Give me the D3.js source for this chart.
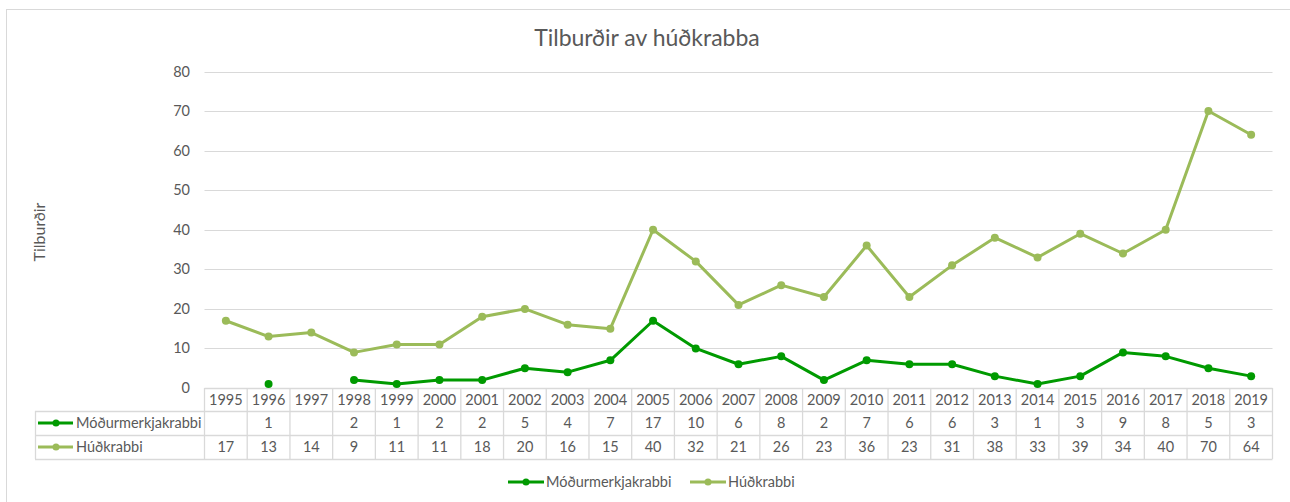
<!DOCTYPE html>
<html lang="is">
<head>
    <meta charset="UTF-8">
    <title>Tilburðir av húðkrabba</title>
    <script src="https://cdn.jsdelivr.net/npm/d3@7"></script>
    <style>
        body { margin: 0; background: #fff; }
        svg { font-family: Lato, "Liberation Sans", sans-serif; }
        .grid line { stroke: #d9d9d9; stroke-width: 1; }
        .tbl line { stroke: #d9d9d9; stroke-width: 1.3; }
        text { fill: #595959; }
    </style>
</head>
<body>
<svg class="chart"></svg>
<script>
    var width = 1290, height = 502;

    // data
    var years = ['1995','1996','1997','1998','1999','2000','2001','2002','2003','2004','2005','2006','2007',
                 '2008','2009','2010','2011','2012','2013','2014','2015','2016','2017','2018','2019'];
    var modurmerkja = [null,1,null,2,1,2,2,5,4,7,17,10,6,8,2,7,6,6,3,1,3,9,8,5,3];
    var hudkrabbi = [17,13,14,9,11,11,18,20,16,15,40,32,21,26,23,36,23,31,38,33,39,34,40,70,64];
    var seriesNames = ['Móðurmerkjakrabbi', 'Húðkrabbi'];
    var seriesColors = ['#009a00', '#9bbb59'];
    var yTicks = [0,10,20,30,40,50,60,70,80];

    var series = [
        {name: seriesNames[0], color: seriesColors[0], values: modurmerkja},
        {name: seriesNames[1], color: seriesColors[1], values: hudkrabbi}
    ];

    var svg = d3.select('.chart').attr('width', width).attr('height', height);

    // chart border
    svg.append('rect')
        .attr('x', 6.5).attr('y', 9.5)
        .attr('width', 1300).attr('height', 520)
        .attr('fill', 'none').attr('stroke', '#d9d9d9');

    var plotLeft = 204.5, plotRight = 1272.5, plotTop = 71.5, plotBottom = 388;

    var x = d3.scaleBand().domain(years).range([plotLeft, plotRight]);
    var y = d3.scaleLinear().domain([0, 80]).range([plotBottom, plotTop]);

    // title
    svg.append('text')
        .attr('x', 647).attr('y', 46)
        .attr('text-anchor', 'middle')
        .style('font-size', '23px')
        .text('Tilburðir av húðkrabba');

    // y axis label
    svg.append('text')
        .attr('transform', 'translate(45,232) rotate(-90)')
        .attr('text-anchor', 'middle')
        .style('font-size', '16px')
        .text('Tilburðir');

    // grid
    svg.append('g').attr('class', 'grid')
        .selectAll('line')
        .data(yTicks.filter(function (d) { return d > 0; }))
        .enter().append('line')
        .attr('x1', plotLeft).attr('x2', plotRight)
        .attr('y1', function (d) { return Math.round(y(d)) + 0.5; })
        .attr('y2', function (d) { return Math.round(y(d)) + 0.5; });

    // y tick labels
    svg.append('g')
        .selectAll('text')
        .data(yTicks)
        .enter().append('text')
        .attr('x', 190)
        .attr('y', function (d) { return y(d) + 5; })
        .attr('text-anchor', 'end')
        .style('font-size', '14.5px')
        .text(function (d) { return d; });

    // data table
    var rowTop = [388, 411, 435, 459];
    var labelLeft = 35;
    var tbl = svg.append('g').attr('class', 'tbl');

    // horizontal lines
    tbl.append('line').attr('x1', plotLeft).attr('x2', plotRight).attr('y1', rowTop[0] + 0.5).attr('y2', rowTop[0] + 0.5);
    [1, 2, 3].forEach(function (i) {
        tbl.append('line').attr('x1', labelLeft).attr('x2', plotRight)
            .attr('y1', rowTop[i] + 0.5).attr('y2', rowTop[i] + 0.5);
    });
    // vertical lines
    tbl.append('line').attr('x1', labelLeft + 0.5).attr('x2', labelLeft + 0.5).attr('y1', rowTop[1]).attr('y2', rowTop[3]);
    years.forEach(function (yr) {
        tbl.append('line').attr('x1', x(yr)).attr('x2', x(yr)).attr('y1', rowTop[0]).attr('y2', rowTop[3]);
    });
    tbl.append('line').attr('x1', plotRight).attr('x2', plotRight).attr('y1', rowTop[0]).attr('y2', rowTop[3]);

    // year headers
    svg.append('g').selectAll('text')
        .data(years).enter().append('text')
        .attr('x', function (d) { return x(d) + x.bandwidth() / 2; })
        .attr('y', rowTop[0] + 17)
        .attr('text-anchor', 'middle')
        .style('font-size', '14.5px')
        .text(function (d) { return d; });

    // table value rows
    series.forEach(function (s, i) {
        var yy = rowTop[i + 1] + 17;
        var g = svg.append('g');
        g.selectAll('text')
            .data(s.values).enter().append('text')
            .attr('x', function (d, j) { return x(years[j]) + x.bandwidth() / 2; })
            .attr('y', yy)
            .attr('text-anchor', 'middle')
            .style('font-size', '14.5px')
            .text(function (d) { return d == null ? '' : d; });
        // legend key in the table
        var ky = rowTop[i + 1] + 12;
        g.append('line').attr('x1', 38).attr('x2', 73).attr('y1', ky).attr('y2', ky)
            .attr('stroke', s.color).attr('stroke-width', 3);
        g.append('circle').attr('cx', 56).attr('cy', ky).attr('r', 3.5).attr('fill', s.color);
        g.append('text').attr('x', 76).attr('y', yy)
            .style('font-size', '14.5px')
            .text(s.name);
    });

    // lines
    var line = d3.line()
        .defined(function (d) { return d != null; })
        .x(function (d, j) { return x(years[j]) + x.bandwidth() / 2; })
        .y(function (d) { return y(d); });

    series.slice().reverse().forEach(function (s) {
        svg.append('path')
            .datum(s.values)
            .attr('fill', 'none')
            .attr('stroke', s.color)
            .attr('stroke-width', 3)
            .attr('stroke-linejoin', 'round')
            .attr('d', line);
        svg.append('g').selectAll('circle')
            .data(s.values.map(function (v, j) { return {v: v, yr: years[j]}; })
                .filter(function (d) { return d.v != null; }))
            .enter().append('circle')
            .attr('cx', function (d) { return x(d.yr) + x.bandwidth() / 2; })
            .attr('cy', function (d) { return y(d.v); })
            .attr('r', 4)
            .attr('fill', s.color);
    });

    // legend
    var legendItems = [{x: 508, s: series[0]}, {x: 690, s: series[1]}];
    legendItems.forEach(function (it) {
        var g = svg.append('g');
        g.append('line').attr('x1', it.x).attr('x2', it.x + 36).attr('y1', 482).attr('y2', 482)
            .attr('stroke', it.s.color).attr('stroke-width', 3);
        g.append('circle').attr('cx', it.x + 18).attr('cy', 482).attr('r', 3.5).attr('fill', it.s.color);
        g.append('text').attr('x', it.x + 38).attr('y', 487)
            .style('font-size', '14.5px')
            .text(it.s.name);
    });
</script>
</body>
</html>
